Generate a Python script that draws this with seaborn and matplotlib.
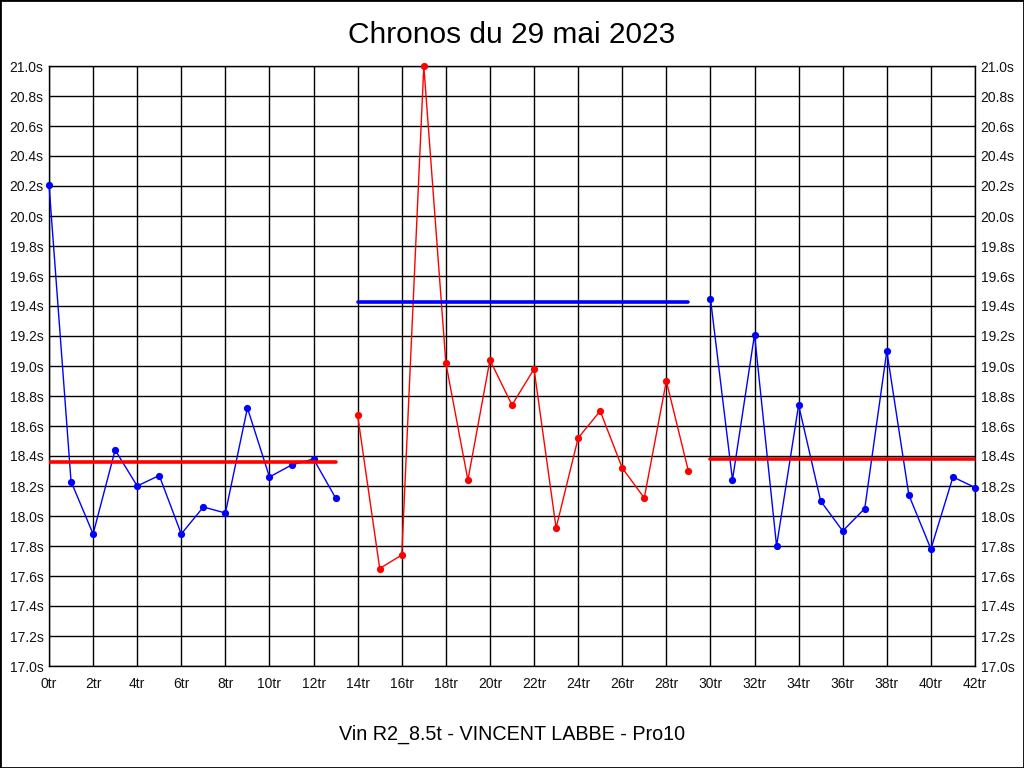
import numpy as np
import pandas as pd
import matplotlib
matplotlib.use("Agg")
import matplotlib.pyplot as plt
from matplotlib.patches import Rectangle
from matplotlib.ticker import MultipleLocator, FuncFormatter
import seaborn as sns

sns.set_style("white")
plt.rcParams['font.family'] = ['Liberation Sans', 'DejaVu Sans']
plt.rcParams['text.color'] = 'black'

title = "Chronos du 29 mai 2023"
subtitle = "Vin R2_8.5t - VINCENT LABBE - Pro10"

laps_1 = list(range(0, 14))
times_1 = [20.21, 18.23, 17.88, 18.44, 18.20, 18.27, 17.88, 18.06, 18.02,
           18.72, 18.26, 18.34, 18.38, 18.12]
laps_2 = list(range(14, 30))
times_2 = [18.67, 17.65, 17.74, 33.92, 19.02, 18.24, 19.04, 18.74, 18.98,
           17.92, 18.52, 18.70, 18.32, 18.12, 18.90, 18.30]
laps_3 = list(range(30, 43))
times_3 = [19.45, 18.24, 19.21, 17.80, 18.74, 18.10, 17.90, 18.05, 19.10,
           18.14, 17.78, 18.26, 18.19]

series_colors = ["#0000ff", "#ff0000", "#0000ff"]
avg_colors = ["#ff0000", "#0000ff", "#ff0000"]

YMIN, YMAX = 17.0, 21.0
XMIN, XMAX = 0, 42

fig = plt.figure(figsize=(10.24, 7.68), dpi=100)
ax = fig.add_axes([49/1024, 1-666/768, (975-49)/1024, 600/768])

stints = [(laps_1, times_1), (laps_2, times_2), (laps_3, times_3)]
for i, (laps, times) in enumerate(stints):
    df = pd.DataFrame({"lap": laps, "time": times})
    df["shown"] = df["time"].clip(upper=YMAX)
    sns.lineplot(data=df, x="lap", y="shown", ax=ax, color=series_colors[i],
                 linewidth=1.0, marker="o", markersize=5.2, markeredgewidth=0,
                 zorder=3, legend=False, clip_on=False)
    avg = float(np.mean(times))
    sns.lineplot(x=[laps[0], laps[-1]], y=[avg, avg], ax=ax,
                 color=avg_colors[i], linewidth=2.6, zorder=4, legend=False)

ax.set_xlim(XMIN, XMAX)
ax.set_ylim(YMIN, YMAX)
ax.xaxis.set_major_locator(MultipleLocator(2))
ax.yaxis.set_major_locator(MultipleLocator(0.2))
ax.xaxis.set_major_formatter(FuncFormatter(lambda v, p: f"{int(round(v))}tr"))
ax.yaxis.set_major_formatter(FuncFormatter(lambda v, p: f"{v:.1f}s"))
ax.grid(True, which="major", color="black", linewidth=1.0)
ax.set_axisbelow(True)
ax.tick_params(axis="y", which="both", left=True, right=True,
               labelleft=True, labelright=True, length=0, pad=4,
               labelsize=10, colors="#111111")
ax.tick_params(axis="x", which="both", bottom=False, length=0, pad=8,
               labelsize=10, colors="#111111")
ax.set_xlabel("")
ax.set_ylabel("")
for s in ax.spines.values():
    s.set_visible(True)
    s.set_color("black")
    s.set_linewidth(1.0)

fig.text(0.5, 1-35/768, title, ha="center", va="center", fontsize=21.5,
         color="black")
fig.text(0.5, 1-734/768, subtitle, ha="center", va="center", fontsize=14.2,
         color="black")
fig.patches.append(Rectangle((0, 0), 1, 1, transform=fig.transFigure,
                             fill=False, edgecolor="black", linewidth=2))

fig.savefig("out.png", dpi=100)
